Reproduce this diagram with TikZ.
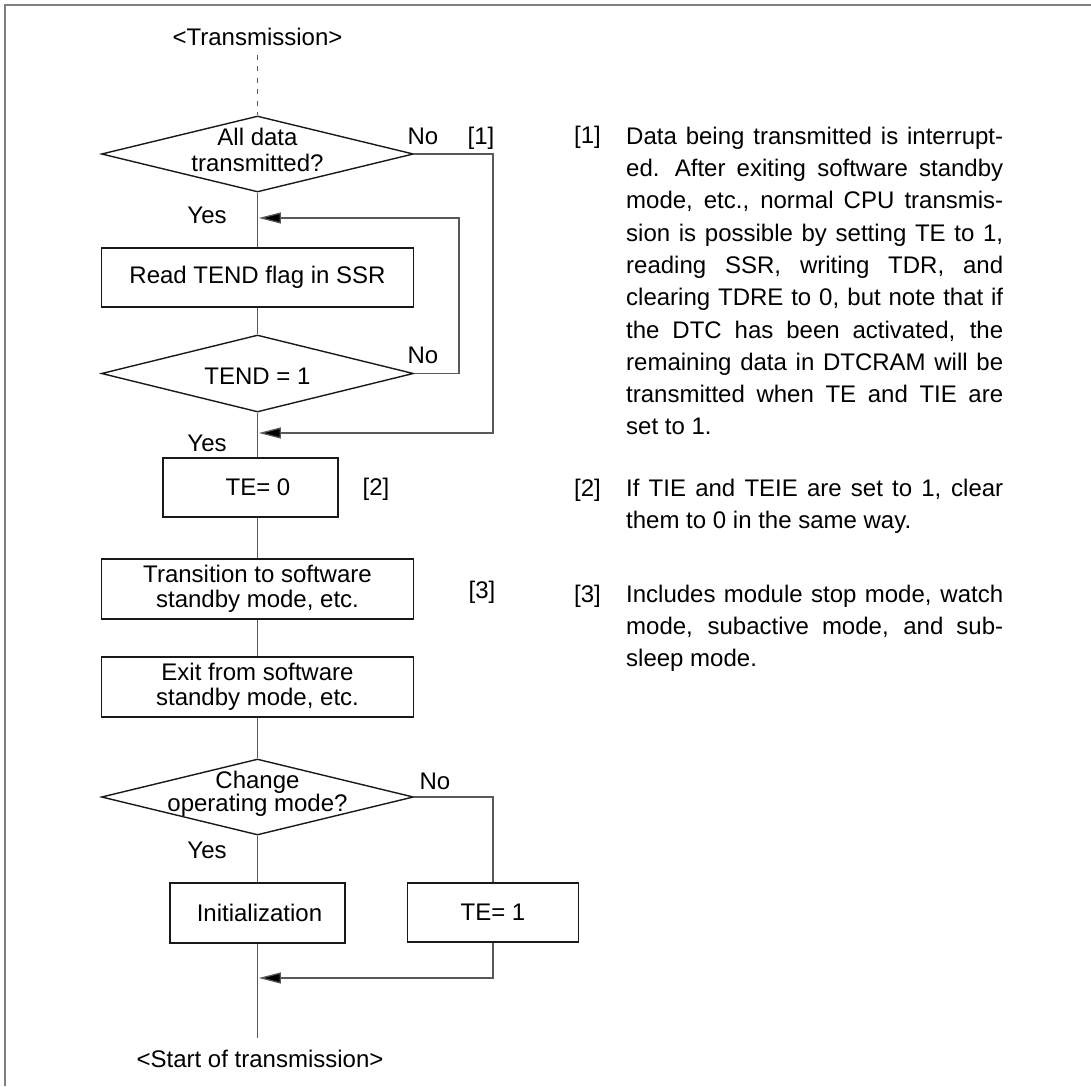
\documentclass[tikz,border=0pt]{standalone}
\usepackage{fontspec}
\setmainfont{Liberation Sans}
\usetikzlibrary{arrows.meta,shapes.geometric}
\newcommand{\jline}[1]{\hbox to 377pt{\spaceskip=0.278em plus 1fil\relax\xspaceskip=0.45em plus 1fil\relax\strut #1}}
\begin{document}
\begin{tikzpicture}[x=1pt,y=-1pt,
  txt/.style={font=\fontsize{24}{26}\selectfont, inner sep=0pt, align=center},
  lab/.style={font=\fontsize{24}{26}\selectfont, inner sep=0pt, anchor=base},
  box/.style={draw=black!90, line width=1.4pt, rectangle, minimum height=59pt, inner sep=0pt, align=center, font=\fontsize{24}{25}\selectfont},
  dia/.style={draw=black!90, line width=1.4pt, diamond, minimum width=312pt, minimum height=76pt, inner sep=0pt},
  con/.style={draw=black!65, line width=1.3pt},
  arr/.style={con, -{Triangle[length=22pt,width=11pt,fill=black]}},
  para/.style={font=\fontsize{24}{32.3}\selectfont, inner sep=0pt, anchor=north west, text width=377pt},
]
\fill[white] (0,0) rectangle (1091,1086);
\useasboundingbox (0,0) rectangle (1091,1086);
% frame
\draw[draw=black!50, line width=2pt] (1091,5) -- (5,5) -- (5,1086);

% flowchart nodes
\node[lab] (start) at (257.5,45.6) {<Transmission>};
\coordinate (dtop) at (257.5,55);
\node[dia] (d1) at (257.5,154) {};
\node[txt] (d1t) at (257.5,150) {All data\\transmitted?};
\node[box, minimum width=312pt] (b1) at (257.5,277.5) {Read TEND flag in SSR};
\node[dia, minimum height=77pt] (d2) at (257.5,373.5) {};
\node[txt] (d2t) at (257.5,376) {TEND = 1};
\node[box, minimum width=175pt] (b2) at (250.5,487.5) {\hspace*{15pt}TE= 0};
\node[box, minimum width=312pt, minimum height=60pt] (b3) at (257.5,589) {Transition to software\\standby mode, etc.};
\node[box, minimum width=312pt, minimum height=60pt] (b4) at (257.5,687) {Exit from software\\standby mode, etc.};
\node[dia] (d3) at (257.5,797) {};
\node[txt, font=\fontsize{24}{23}\selectfont] (d3t) at (257.5,794) {Change\\operating mode?};
\node[box, minimum width=175pt, minimum height=60pt] (b5) at (257.5,913) {\hspace*{4pt}Initialization};
\node[box, minimum width=171pt] (b6) at (493,912.5) {TE= 1};
\node[lab] (finish) at (260,1067.6) {<Start of transmission>};
\coordinate (dend) at (257.5,1038);

% junction points on the main line
\coordinate (j1) at (258.8,218);
\coordinate (j2) at (258.8,433);
\coordinate (j3) at (258.8,978);
\coordinate (c1) at (493,154);
\coordinate (c2) at (459,373.5);

% labels
\node[lab] (y1) at (207,223.6) {Yes};
\node[lab] (y2) at (207,451.6) {Yes};
\node[lab] (y3) at (207,858.6) {Yes};
\node[lab] (n1) at (423,144.6) {No};
\node[lab] (n2) at (423,363.6) {No};
\node[lab] (n3) at (435,789.6) {No};
\node[lab] (r1) at (481,144.6) {[1]};
\node[lab] (r2) at (376,495.6) {[2]};
\node[lab] (r3) at (482,598.6) {[3]};

% connectors
\draw[con, dash pattern=on 5pt off 6.5pt] (dtop) -- (d1.north);
\draw[con] (d1.south) -- (b1.north);
\draw[con] (b1.south) -- (d2.north);
\draw[con] (d2.south) -- (d2.south |- b2.north);
\draw[con] (b3.north |- b2.south) -- (b3.north);
\draw[con] (b3.south) -- (b4.north);
\draw[con] (b4.south) -- (d3.north);
\draw[con] (d3.south) -- (b5.north);
\draw[con] (b5.south) -- (dend);
\draw[arr] (d1.east) -- (c1) |- (j2);
\draw[arr] (d2.east) -- (c2) |- (j1);
\draw[con] (d3.east) -| (b6.north);
\draw[arr] (b6.south) |- (j3);

% notes
\node[lab, anchor=base west] (m1) at (574,144) {[1]};
\node[para] (p1) at (626,121.39) {%
\jline{Data being transmitted is interrupt-}
\jline{ed.  After exiting software standby}
\jline{mode, etc., normal CPU transmis-}
\jline{sion is possible by setting TE to 1,}
\jline{reading SSR, writing TDR, and}
\jline{clearing TDRE to 0, but note that if}
\jline{the DTC has been activated, the}
\jline{remaining data in DTCRAM will be}
\jline{transmitted when TE and TIE are}
\jline{set to 1.\hfill}};
\node[lab, anchor=base west] (m2) at (574,496) {[2]};
\node[para] (p2) at (626,473.39) {%
\jline{If TIE and TEIE are set to 1, clear}
\jline{them to 0 in the same way.\hfill}};
\node[lab, anchor=base west] (m3) at (574,602) {[3]};
\node[para] (p3) at (626,579.39) {%
\jline{Includes module stop mode, watch}
\jline{mode, subactive mode, and sub-}
\jline{sleep mode.\hfill}};
\end{tikzpicture}
\end{document}
